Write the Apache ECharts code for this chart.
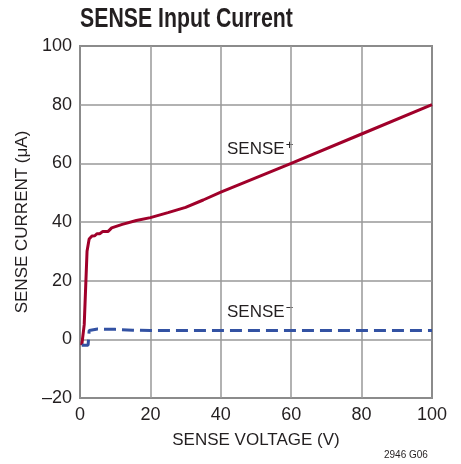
<!DOCTYPE html>
<html><head><meta charset="utf-8">
<script src="https://cdn.jsdelivr.net/npm/echarts@6/dist/echarts.min.js"></script>
<style>html,body{margin:0;padding:0;background:#fff}#c{width:461px;height:464px}</style>
</head><body><div id="c"></div>
<script>
const xTicks = [0, 20, 40, 60, 80, 100];
const yTicks = [-20, 0, 20, 40, 60, 80, 100];
const sensePlusV = [0.5, 1.2, 2.0, 2.6, 3.0, 3.4, 4.2, 4.8, 5.6, 6.5, 8.0, 9.0, 12, 16, 20, 25, 30, 35, 40, 60, 80, 100];
const sensePlusI = [-2, 5, 30, 34.2, 34.5, 35.2, 35.3, 36.0, 36.0, 36.8, 36.8, 38.0, 39.2, 40.5, 41.5, 43.2, 45.0, 47.5, 50.2, 60.0, 70.0, 80.0];
const senseMinusV = [0.5, 2.3, 2.6, 3.0, 5, 10, 15, 20, 40, 60, 80, 100];
const senseMinusI = [-2, -2, 3.0, 3.5, 3.5, 3.4, 3.1, 3.0, 3.0, 3.0, 3.0, 3.0];
const FONT = '"Liberation Sans Narrow", "Liberation Sans", sans-serif';
const chart = echarts.init(document.getElementById('c'));
chart.setOption({
  animation: false,
  backgroundColor: '#fff',
  grid: {left: 80, top: 46, width: 352, height: 352, show: true, borderColor: '#333', borderWidth: 1.5},
  xAxis: {type: 'value', min: 0, max: 100, interval: 20,
    name: 'SENSE VOLTAGE (V)', nameLocation: 'middle', nameGap: 34,
    nameTextStyle: {fontFamily: FONT, fontSize: 17, color: '#231f20'},
    axisLine: {show: false}, axisTick: {show: false},
    axisLabel: {fontFamily: FONT, fontSize: 18, color: '#231f20', margin: 8},
    splitLine: {show: true, lineStyle: {color: '#999', width: 1.5}}},
  yAxis: {type: 'value', min: -20, max: 100, interval: 20,
    name: 'SENSE CURRENT (\u03bcA)', nameLocation: 'middle', nameGap: 49,
    nameTextStyle: {fontFamily: FONT, fontSize: 17, color: '#231f20'},
    axisLine: {show: false}, axisTick: {show: false},
    axisLabel: {fontFamily: FONT, fontSize: 18, color: '#231f20', margin: 8,
      formatter: v => v < 0 ? '\u2013' + Math.abs(v) : String(v)},
    splitLine: {show: true, lineStyle: {color: '#999', width: 1.5}}},
  series: [
    {type: 'line', showSymbol: false, data: sensePlusV.map((v, i) => [v, sensePlusI[i]]),
      lineStyle: {color: '#a0002a', width: 3}, z: 3},
    {type: 'line', showSymbol: false, data: senseMinusV.map((v, i) => [v, senseMinusI[i]]),
      lineStyle: {color: '#3352a3', width: 3, type: [12, 6]}, z: 3}
  ],
  graphic: [
    {type: 'text', x: 80, y: 5, scaleX: 0.76, style: {
      text: 'SENSE Input Current', fontFamily: FONT, fontWeight: 'bold', fontSize: 28, fill: '#231f20'}},
    {type: 'text', left: 227, top: 139, style: {
      text: '{a|SENSE}{s|+}', rich: {
        a: {fontFamily: FONT, fontSize: 17, fill: '#231f20'},
        s: {fontFamily: FONT, fontSize: 13, fill: '#231f20', verticalAlign: 'top', padding: [0,0,8,1]}}}},
    {type: 'text', left: 227, top: 302, style: {
      text: '{a|SENSE}{s|\u2212}', rich: {
        a: {fontFamily: FONT, fontSize: 17, fill: '#231f20'},
        s: {fontFamily: FONT, fontSize: 13, fill: '#231f20', verticalAlign: 'top', padding: [0,0,8,1]}}}},
    {type: 'text', left: 384, top: 450, style: {text: '2946 G06', fontFamily: FONT, fontSize: 10, fill: '#231f20'}}
  ]
});
</script></body></html>
